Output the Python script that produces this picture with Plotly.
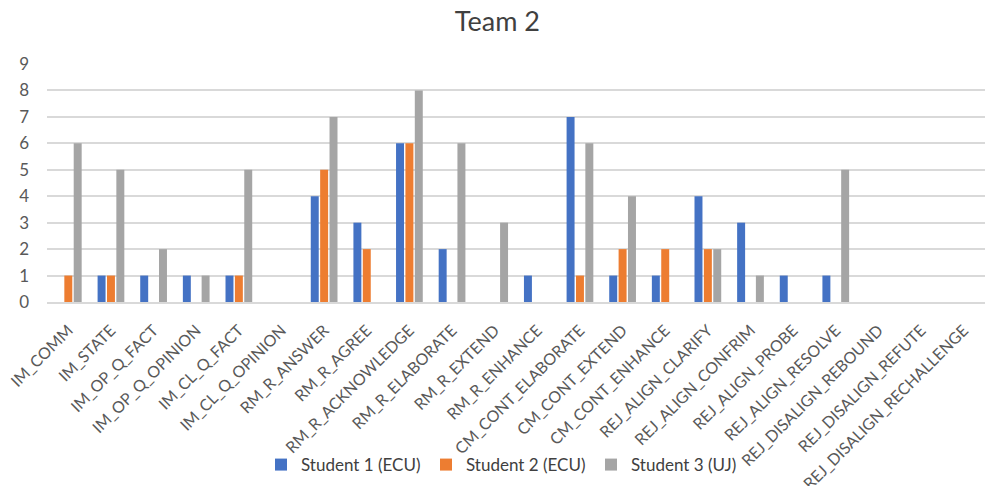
import plotly.graph_objects as go

categories = ["IM_COMM", "IM_STATE", "IM_OP_Q_FACT", "IM_OP_Q_OPINION", "IM_CL_Q_FACT",
              "IM_CL_Q_OPINION", "RM_R_ANSWER", "RM_R_AGREE", "RM_R_ACKNOWLEDGE",
              "RM_R_ELABORATE", "RM_R_EXTEND", "RM_R_ENHANCE", "CM_CONT_ELABORATE",
              "CM_CONT_EXTEND", "CM_CONT_ENHANCE", "REJ_ALIGN_CLARIFY", "REJ_ALIGN_CONFRIM",
              "REJ_ALIGN_PROBE", "REJ_ALIGN_RESOLVE", "REJ_DISALIGN_REBOUND",
              "REJ_DISALIGN_REFUTE", "REJ_DISALIGN_RECHALLENGE"]
student1 = [0, 1, 1, 1, 1, 0, 4, 3, 6, 2, 0, 1, 7, 1, 1, 4, 3, 1, 1, 0, 0, 0]
student2 = [1, 1, 0, 0, 1, 0, 5, 2, 6, 0, 0, 0, 1, 2, 2, 2, 0, 0, 0, 0, 0, 0]
student3 = [6, 5, 2, 1, 5, 0, 7, 0, 8, 6, 3, 0, 6, 4, 0, 2, 1, 0, 5, 0, 0, 0]
series_names = ["Student 1 (ECU)", "Student 2 (ECU)", "Student 3 (UJ)"]
colors = ["#4472C4", "#ED7D31", "#A5A5A5"]
y_ticks = list(range(0, 10))

fig = go.Figure()
for name, vals, c in zip(series_names, [student1, student2, student3], colors):
    fig.add_trace(go.Bar(x=categories, y=vals, name=name, marker_color=c,
                         marker_line_width=0))

font = "Lato, 'Open Sans', sans-serif"
fig.update_layout(
    width=985, height=486,
    margin=dict(l=47, r=0, t=64, b=184),
    paper_bgcolor="white", plot_bgcolor="white",
    title=dict(text="Team 2", x=0.505, xanchor="center", y=0.955, yanchor="middle",
               font=dict(family=font, size=27, color="#404040")),
    barmode="group", bargap=0.34, bargroupgap=0.15,
    font=dict(family=font, color="#595959"),
    legend=dict(orientation="h", x=0.492, xanchor="center", y=-0.685, yanchor="middle",
                font=dict(family=font, size=17, color="#404040"),
                itemwidth=30, traceorder="normal", bgcolor="rgba(0,0,0,0)",
                entrywidth=120, entrywidthmode="pixels"),
    xaxis=dict(tickangle=-45, tickfont=dict(family=font, size=16, color="#595959"),
               showline=True, linecolor="#D9D9D9", linewidth=1.5, ticks="",
               automargin=False, ticklabelstandoff=11),
    yaxis=dict(range=[0, 9], tickvals=y_ticks, showgrid=True, gridcolor="#D9D9D9",
               gridwidth=1.5, zeroline=False, automargin=False,
               tickfont=dict(family=font, size=17, color="#595959"), ticks="",
               ticklabelstandoff=17),
)
fig.write_html("out.html")
